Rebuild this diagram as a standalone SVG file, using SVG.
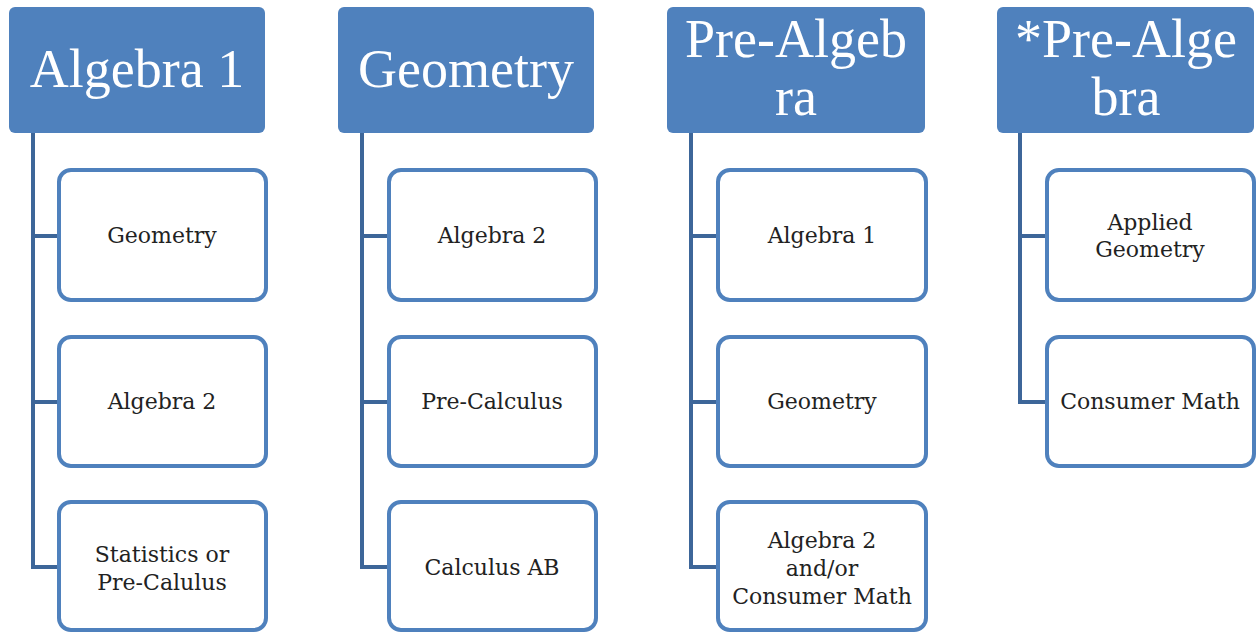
<svg xmlns="http://www.w3.org/2000/svg" width="1258" height="635" viewBox="0 0 1258 635">
<style>
.hd{fill:#4f81bd;}
.ht{fill:#ffffff;font-family:"Liberation Serif","Times New Roman",serif;font-size:54px;text-anchor:middle;}
.ch{fill:#ffffff;stroke:#4f81bd;stroke-width:4;}
.ct{fill:#222222;font-family:"DejaVu Serif",serif;font-size:22px;text-anchor:middle;}
.cn{fill:none;stroke:#3d6699;stroke-width:4;}
</style>
<rect width="1258" height="635" fill="#ffffff"/>
<g id="connectors">
<path class="cn" d="M33 133 V567 H57 M33 236 H57 M33 402 H57"/>
<path class="cn" d="M362 133 V567 H387 M362 236 H387 M362 402 H387"/>
<path class="cn" d="M691 133 V567 H716 M691 236 H716 M691 402 H716"/>
<path class="cn" d="M1020 133 V402 H1045 M1020 236 H1045"/>
</g>
<g id="h1"><rect class="hd" x="9" y="7" width="256" height="126" rx="6"/><text class="ht" x="137" y="87">Algebra 1</text></g>
<g id="h2"><rect class="hd" x="338" y="7" width="256" height="126" rx="6"/><text class="ht" x="466" y="87">Geometry</text></g>
<g id="h3"><rect class="hd" x="667" y="7" width="258" height="126" rx="6"/><text class="ht" x="796" y="57">Pre-Algeb</text><text class="ht" x="796" y="115">ra</text></g>
<g id="h4"><rect class="hd" x="997" y="7" width="257" height="126" rx="6"/><text class="ht" x="1126" y="57">*Pre-Alge</text><text class="ht" x="1126" y="115">bra</text></g>
<g id="c1a"><rect class="ch" x="59" y="170" width="207" height="130" rx="12"/><text class="ct" x="162" y="243">Geometry</text></g>
<g id="c1b"><rect class="ch" x="59" y="337" width="207" height="129" rx="12"/><text class="ct" x="162" y="409">Algebra 2</text></g>
<g id="c1c"><rect class="ch" x="59" y="502" width="207" height="128" rx="12"/><text class="ct" x="162" y="562">Statistics or</text><text class="ct" x="162" y="590">Pre-Calulus</text></g>
<g id="c2a"><rect class="ch" x="389" y="170" width="207" height="130" rx="12"/><text class="ct" x="492" y="243">Algebra 2</text></g>
<g id="c2b"><rect class="ch" x="389" y="337" width="207" height="129" rx="12"/><text class="ct" x="492" y="409">Pre-Calculus</text></g>
<g id="c2c"><rect class="ch" x="389" y="502" width="207" height="128" rx="12"/><text class="ct" x="492" y="575">Calculus AB</text></g>
<g id="c3a"><rect class="ch" x="718" y="170" width="208" height="130" rx="12"/><text class="ct" x="822" y="243">Algebra 1</text></g>
<g id="c3b"><rect class="ch" x="718" y="337" width="208" height="129" rx="12"/><text class="ct" x="822" y="409">Geometry</text></g>
<g id="c3c"><rect class="ch" x="718" y="502" width="208" height="128" rx="12"/><text class="ct" x="822" y="548">Algebra 2</text><text class="ct" x="822" y="576">and/or</text><text class="ct" x="822" y="604">Consumer Math</text></g>
<g id="c4a"><rect class="ch" x="1047" y="170" width="207" height="130" rx="12"/><text class="ct" x="1150" y="230">Applied</text><text class="ct" x="1150" y="257">Geometry</text></g>
<g id="c4b"><rect class="ch" x="1047" y="337" width="207" height="129" rx="12"/><text class="ct" x="1150" y="409">Consumer Math</text></g>
</svg>
